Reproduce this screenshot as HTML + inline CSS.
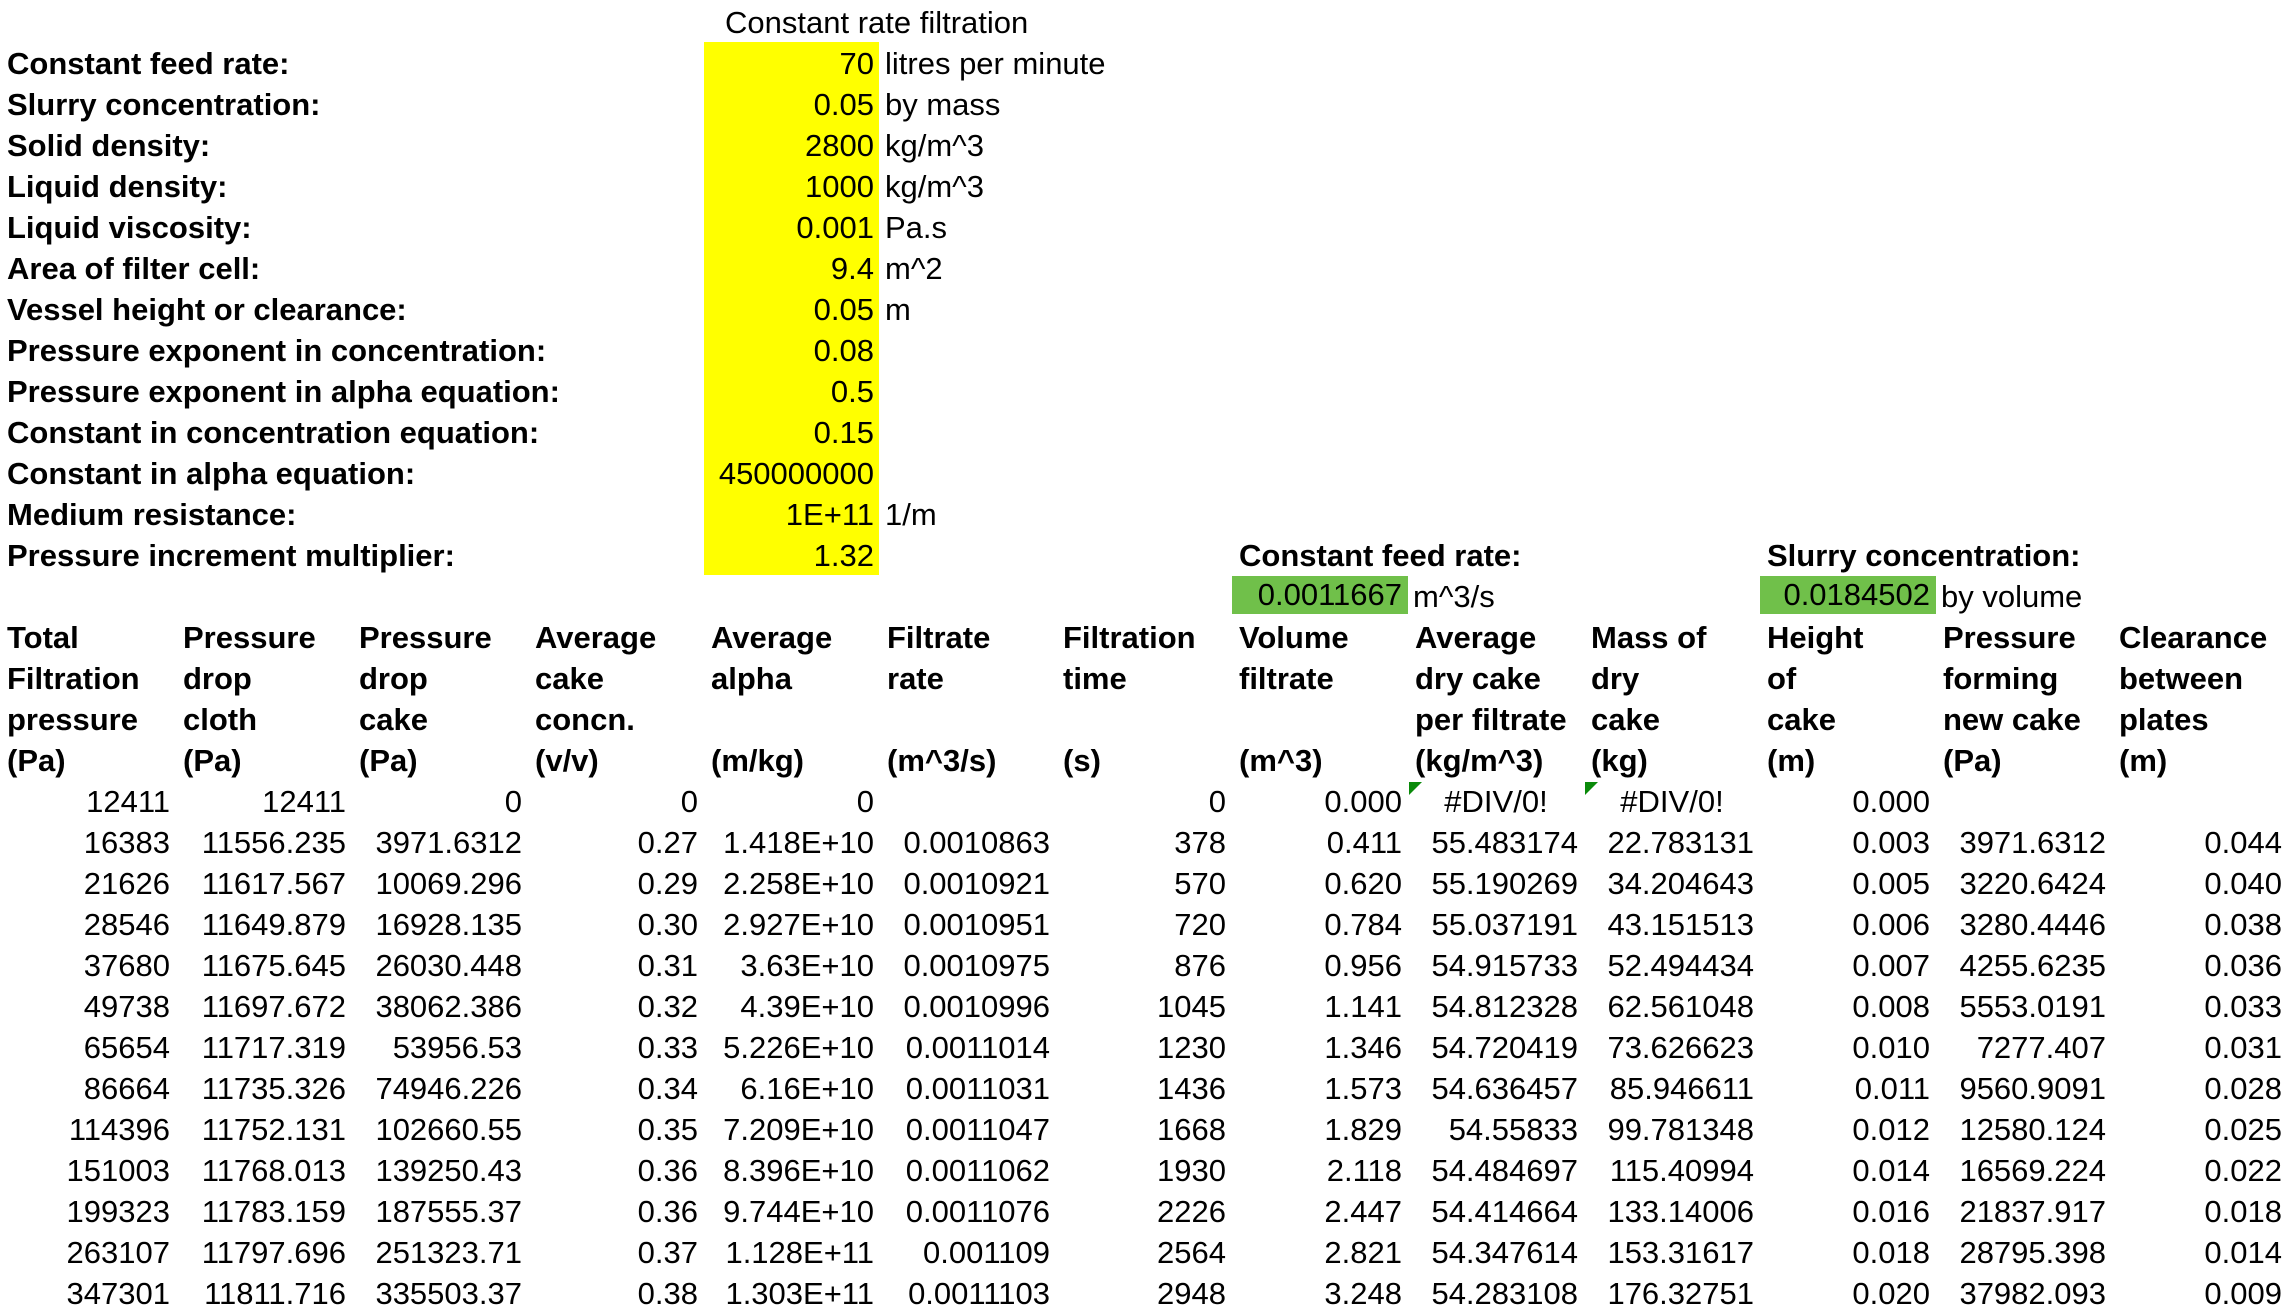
<!DOCTYPE html>
<html><head><meta charset="utf-8">
<style>
html,body{margin:0;padding:0;background:#fff;}
#sheet{position:relative;width:2288px;height:1313px;overflow:hidden;font-family:"Liberation Sans",Arial,sans-serif;font-size:31px;color:#000;}
.c{position:absolute;height:41px;line-height:41px;white-space:nowrap;box-sizing:border-box;}
.r{text-align:right;padding-right:6px;}
.l{text-align:left;padding-left:7px;}
.m{text-align:center;}
.b{font-weight:bold;}
.g{background:#70c04a;}
.tri{position:absolute;width:0;height:0;border-top:13px solid #0a8a0a;border-right:13px solid transparent;}
</style></head>
<body>
<div id="sheet"></div>
<script>
const paramLabels=["Constant feed rate:","Slurry concentration:","Solid density:","Liquid density:","Liquid viscosity:","Area of filter cell:","Vessel height or clearance:","Pressure exponent in concentration:","Pressure exponent in alpha equation:","Constant in concentration equation:","Constant in alpha equation:","Medium resistance:","Pressure increment multiplier:"];
const paramValues=["70","0.05","2800","1000","0.001","9.4","0.05","0.08","0.5","0.15","450000000","1E+11","1.32"];
const paramUnits=["litres per minute","by mass","kg/m^3","kg/m^3","Pa.s","m^2","m","","","","","1/m",""];
const headers=[["Total","Filtration","pressure","(Pa)"],["Pressure","drop","cloth","(Pa)"],["Pressure","drop","cake","(Pa)"],["Average","cake","concn.","(v/v)"],["Average","alpha","","(m/kg)"],["Filtrate","rate","","(m^3/s)"],["Filtration","time","","(s)"],["Volume","filtrate","","(m^3)"],["Average","dry cake","per filtrate","(kg/m^3)"],["Mass of","dry","cake","(kg)"],["Height","of","cake","(m)"],["Pressure","forming","new cake","(Pa)"],["Clearance","between","plates","(m)"]];
const rows=[
["12411","12411","0","0","0","","0","0.000","#DIV/0!","#DIV/0!","0.000","",""],
["16383","11556.235","3971.6312","0.27","1.418E+10","0.0010863","378","0.411","55.483174","22.783131","0.003","3971.6312","0.044"],
["21626","11617.567","10069.296","0.29","2.258E+10","0.0010921","570","0.620","55.190269","34.204643","0.005","3220.6424","0.040"],
["28546","11649.879","16928.135","0.30","2.927E+10","0.0010951","720","0.784","55.037191","43.151513","0.006","3280.4446","0.038"],
["37680","11675.645","26030.448","0.31","3.63E+10","0.0010975","876","0.956","54.915733","52.494434","0.007","4255.6235","0.036"],
["49738","11697.672","38062.386","0.32","4.39E+10","0.0010996","1045","1.141","54.812328","62.561048","0.008","5553.0191","0.033"],
["65654","11717.319","53956.53","0.33","5.226E+10","0.0011014","1230","1.346","54.720419","73.626623","0.010","7277.407","0.031"],
["86664","11735.326","74946.226","0.34","6.16E+10","0.0011031","1436","1.573","54.636457","85.946611","0.011","9560.9091","0.028"],
["114396","11752.131","102660.55","0.35","7.209E+10","0.0011047","1668","1.829","54.55833","99.781348","0.012","12580.124","0.025"],
["151003","11768.013","139250.43","0.36","8.396E+10","0.0011062","1930","2.118","54.484697","115.40994","0.014","16569.224","0.022"],
["199323","11783.159","187555.37","0.36","9.744E+10","0.0011076","2226","2.447","54.414664","133.14006","0.016","21837.917","0.018"],
["263107","11797.696","251323.71","0.37","1.128E+11","0.001109","2564","2.821","54.347614","153.31617","0.018","28795.398","0.014"],
["347301","11811.716","335503.37","0.38","1.303E+11","0.0011103","2948","3.248","54.283108","176.32751","0.020","37982.093","0.009"]];
const sheet=document.getElementById('sheet');
const CW=176, RH=41;
function rowTop(r){return 1.5+RH*r;}
function cell(col,row,w,text,cls){
  const el=document.createElement('div');
  el.className='c '+cls;
  el.style.left=(col*CW)+'px';el.style.top=rowTop(row)+'px';el.style.width=w+'px';
  el.textContent=text;
  sheet.appendChild(el);return el;
}
let d;
d=cell(4,0,352,"Constant rate filtration","l");
d.style.left='718px';


const yb=document.createElement('div');
yb.style.cssText='position:absolute;left:704px;top:42px;width:175px;height:533px;background:#ffff00;';


sheet.appendChild(yb);
for(let i=0;i<paramLabels.length;i++){
  d=cell(0,i+1,700,paramLabels[i],'l b');
  
  
  d=cell(4,i+1,CW,paramValues[i],'r');
  
  
  d=cell(5,i+1,400,paramUnits[i],'l');
  d.style.paddingLeft='5px';
  
  
}
d=cell(7,13,400,"Constant feed rate:","l b");


d=cell(7,14,CW,"0.0011667","r g");
d.style.top='576px';d.style.height='38px';d.style.lineHeight='38px';


d=cell(8,14,300,"m^3/s","l");d.style.paddingLeft='5px';


d=cell(10,13,400,"Slurry concentration:","l b");


d=cell(10,14,CW,"0.0184502","r g");
d.style.top='576px';d.style.height='38px';d.style.lineHeight='38px';


d=cell(11,14,300,"by volume","l");d.style.paddingLeft='5px';


for(let c=0;c<headers.length;c++){
  for(let k=0;k<4;k++){
    if(!headers[c][k])continue;
    d=cell(c,15+k,CW+40,headers[c][k],'l b');
    
    
  }
}
for(let r=0;r<rows.length;r++){
  for(let c=0;c<rows[r].length;c++){
    const t=rows[r][c];if(t==='')continue;
    d=cell(c,19+r,CW,t,t.startsWith('#')?'m':'r');
    
    
  }
}
[8,9].forEach(c=>{
  const t=document.createElement('div');
  t.className='tri';
  t.style.left=(c*CW+1)+'px';t.style.top=(rowTop(19)+1)+'px';
  
  
  sheet.appendChild(t);
});
</script>
</body></html>
